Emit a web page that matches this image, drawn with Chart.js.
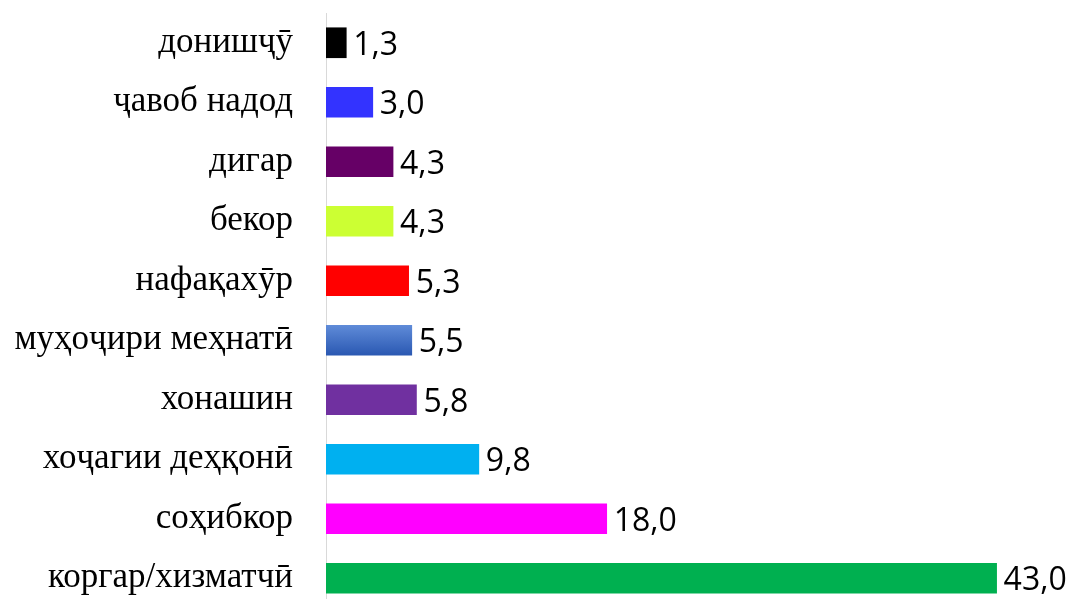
<!DOCTYPE html>
<html>
<head>
<meta charset="utf-8">
<script src="https://cdn.jsdelivr.net/npm/chart.js@4"></script>
<style>
  html, body { margin: 0; padding: 0; background: #fff; overflow: hidden; }
  canvas { display: block; }
</style>
</head>
<body>
<canvas id="barChart" width="1070" height="610"></canvas>
<script>
// категорияҳо аз боло ба поён
const categories = ['донишҷӯ', 'ҷавоб надод', 'дигар', 'бекор', 'нафақахӯр',
  'муҳоҷири меҳнатӣ', 'хонашин', 'хоҷагии деҳқонӣ', 'соҳибкор', 'коргар/хизматчӣ'];
const values = [1.3, 3.0, 4.3, 4.3, 5.3, 5.5, 5.8, 9.8, 18.0, 43.0];
const barColors = ['#000000', '#3333ff', '#660066', '#ccff33', '#ff0000',
  null, '#7030a0', '#00b0f0', '#ff00ff', '#00b050'];

// бар бо градиент (муҳоҷири меҳнатӣ)
function barFill(c) {
  const col = barColors[c.dataIndex];
  if (col) return col;
  const yScale = c.chart.scales.y;
  if (!yScale) return '#3f6fc4';
  const yc = yScale.getPixelForValue(c.dataIndex);
  const g = c.chart.ctx.createLinearGradient(0, yc - 15, 0, yc + 15);
  g.addColorStop(0, '#5f8bd8');
  g.addColorStop(1, '#2a58b2');
  return g;
}

const valueLabels = {
  id: 'valueLabels',
  afterDatasetsDraw(chart) {
    const ctx = chart.ctx;
    ctx.save();
    ctx.font = '32px "Open Sans"';
    ctx.fillStyle = '#000';
    ctx.textBaseline = 'middle';
    chart.getDatasetMeta(0).data.forEach((bar, i) => {
      ctx.fillText(values[i].toFixed(1).replace('.', ','), bar.x + 7, bar.y + 3);
    });
    ctx.restore();
  }
};

const ctx = document.getElementById('barChart').getContext('2d');
const chart = new Chart(ctx, {
  type: 'bar',
  data: {
    labels: categories,
    datasets: [{
      data: values,
      backgroundColor: barFill,
      borderWidth: 0,
      barThickness: 30
    }]
  },
  options: {
    indexAxis: 'y',
    responsive: false,
    animation: false,
    layout: { padding: { top: 13, bottom: 2, right: 11, left: 0 } },
    plugins: { legend: { display: false }, tooltip: { enabled: false } },
    scales: {
      x: {
        min: 0,
        max: 47,
        display: false
      },
      y: {
        grid: { display: false, drawTicks: false },
        border: { display: true, color: '#d9d9d9', width: 1 },
        ticks: {
          color: '#000',
          padding: 33,
          font: { family: '"Liberation Serif", "DejaVu Serif", serif', size: 35 }
        },
        afterFit(scale) {
          scale.width = 326;
          scale.paddingTop = 0;
          scale.paddingBottom = 0;
        }
      }
    }
  },
  plugins: [valueLabels]
});
</script>
</body>
</html>
